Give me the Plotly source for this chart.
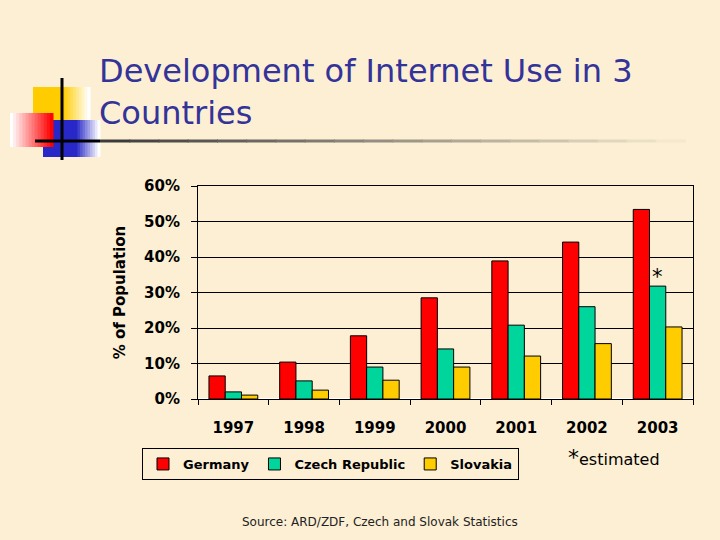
import plotly.graph_objects as go

years = ["1997", "1998", "1999", "2000", "2001", "2002", "2003"]
germany = [6.5, 10.4, 17.8, 28.5, 38.9, 44.2, 53.4]
czech = [2.0, 5.1, 9.0, 14.1, 20.8, 26.0, 31.8]
slovakia = [1.1, 2.5, 5.3, 9.0, 12.1, 15.6, 20.3]

series = [
    ("Germany", germany, "#FF0000"),
    ("Czech Republic", czech, "#00D69C"),
    ("Slovakia", slovakia, "#FFCC00"),
]

W, H = 720, 540
L, R, T, B = 198, 27, 186, 141
BG = "#FCEFD4"
FONT = "DejaVu Sans"

fig = go.Figure()
for name, vals, color in series:
    fig.add_trace(go.Bar(
        x=years,
        y=vals,
        name=name,
        marker=dict(color=color, line=dict(color="black", width=1)),
    ))


def px(x, y):
    # page pixels -> paper coords (paper = plot area)
    return (x - L) / (W - L - R), (H - B - y) / (H - T - B)


def mix(c1, c2, t):
    return "rgb({},{},{})".format(*[round(a + (b - a) * t) for a, b in zip(c1, c2)])


shapes = []


def grad_rect(x0, y0, x1, y1, c_left, c_right, n=12):
    # horizontal gradient made of thin strips
    step = (x1 - x0) / n
    for i in range(n):
        a0, b0 = px(x0 + i * step, y0)
        a1, b1 = px(x0 + (i + 1) * step + 0.5, y1)
        t = i / (n - 1) if n > 1 else 0
        shapes.append(dict(type="rect", xref="paper", yref="paper",
                           x0=a0, y0=b1, x1=a1, y1=b0, line_width=0,
                           fillcolor=mix(c_left, c_right, t),
                           layer="below"))


white = (255, 255, 255)
yellow = (255, 204, 0)
red = (255, 0, 0)
blue = (40, 40, 200)

# decorative logo
grad_rect(33, 87, 62, 120, yellow, yellow, n=1)
grad_rect(62, 87, 90, 120, yellow, white, n=10)
grad_rect(43, 120, 75, 157, blue, blue, n=1)
grad_rect(75, 120, 100, 157, blue, white, n=10)
grad_rect(10, 113, 53, 147, white, red, n=14)


def line(x0, y0, x1, y1, color, width):
    a0, b0 = px(x0, y0)
    a1, b1 = px(x1, y1)
    shapes.append(dict(type="line", xref="paper", yref="paper",
                       x0=a0, y0=b0, x1=a1, y1=b1,
                       line=dict(color=color, width=width)))


line(62, 78, 62, 160, "black", 3)
line(35, 141, 100, 141, "black", 3)
segs = 20
for i in range(segs):
    x0 = 100 + i * (585 / segs)
    line(x0, 141, x0 + 585 / segs + 1, 141,
         mix((60, 60, 60), (245, 232, 205), i / (segs - 1)), 3)


def ann(text, x, y, **kw):
    a, b = px(x, y)
    d = dict(text=text, xref="paper", yref="paper", x=a, y=b, showarrow=False)
    d.update(kw)
    return d


annotations = [
    ann("Development of Internet Use in 3<br>Countries", 97, 50,
        xanchor="left", yanchor="top", align="left",
        font=dict(family=FONT, size=32, color="#333399")),
    # asterisk over the estimated 2003 Czech value (category index)
    dict(text="*", x=years.index("2003"), y=czech[-1], xref="x", yref="y",
         yshift=9, showarrow=False, font=dict(family=FONT, size=21, color="black")),
    ann("<span style='font-size:22px'>*</span>estimated", 566, 457,
        xanchor="left", yanchor="middle", font=dict(family=FONT, size=16, color="black")),
    ann("Source: ARD/ZDF, Czech and Slovak Statistics", 380, 522,
        xanchor="center", yanchor="middle", font=dict(family=FONT, size=12, color="#222222")),
]

lx, ly = px(142, 448)

fig.update_layout(
    width=W, height=H,
    paper_bgcolor=BG, plot_bgcolor=BG,
    margin=dict(l=L, r=R, t=T, b=B),
    barmode="group", bargap=0.31, bargroupgap=0,
    font=dict(family=FONT, color="black"),
    showlegend=True,
    legend=dict(orientation="h", x=lx, y=ly, xanchor="left", yanchor="top",
                bordercolor="black", borderwidth=1, bgcolor=BG,
                font=dict(family=FONT, size=13, weight="bold"),
                itemwidth=30, tracegroupgap=0),
    shapes=shapes,
    annotations=annotations,
)

fig.update_xaxes(
    type="category",
    showline=True, linecolor="black", linewidth=1, mirror=True,
    ticks="outside", tickson="boundaries", ticklen=5, tickcolor="black",
    tickfont=dict(family=FONT, size=15, weight="bold"),
    ticklabelstandoff=15,
)
fig.update_yaxes(
    range=[0, 60], dtick=10, ticksuffix="%",
    showline=True, linecolor="black", linewidth=1, mirror=True,
    showgrid=True, gridcolor="black", gridwidth=1,
    ticks="outside", ticklen=6, tickcolor="black",
    tickfont=dict(family=FONT, size=15, weight="bold"),
    ticklabelstandoff=8,
    title=dict(text="% of Population", font=dict(family=FONT, size=15, weight="bold"),
               standoff=14),
)

fig.write_html("out.html", config={"displayModeBar": False},
               post_script="document.body.style.margin='0';")
